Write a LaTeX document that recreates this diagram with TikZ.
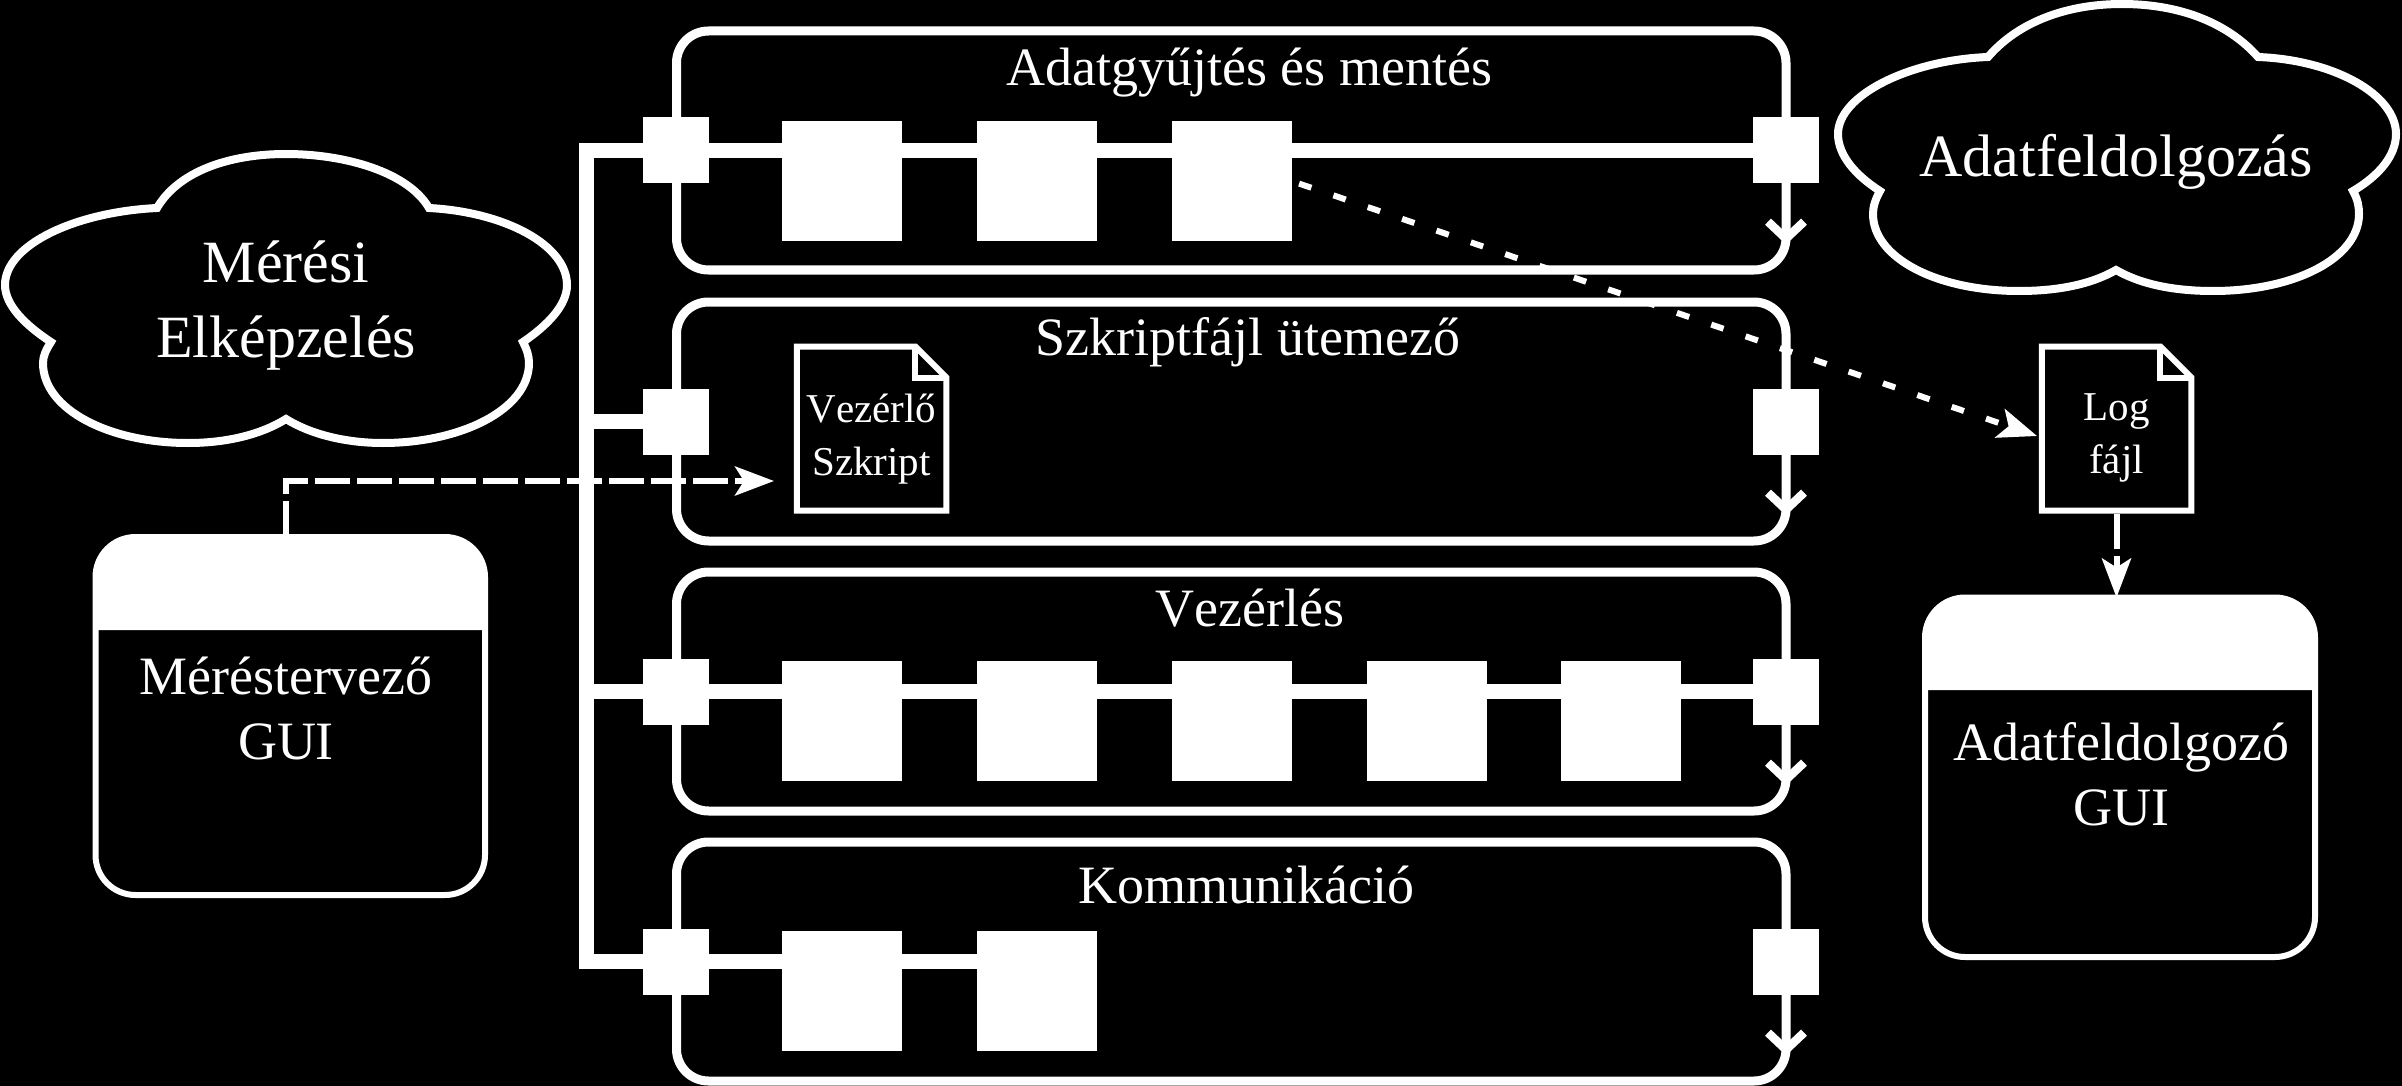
\documentclass[tikz,border=0pt]{standalone}
\usepackage{fontspec}
\setmainfont[Kerning=Off]{Liberation Serif}
\usetikzlibrary{arrows.meta,calc}
\tikzset{
  x=1pt,y=-1pt,
  every node/.style={text=white,inner sep=0pt,outer sep=0pt,align=center},
  lane/.style={draw=white,line width=9pt,rounded corners=32pt,minimum width=1109.5pt,minimum height=239pt},
  portbox/.style={fill=white,minimum width=66pt,minimum height=66pt},
  blockbox/.style={fill=white,minimum width=120pt,minimum height=120pt},
  guibox/.style={draw=white,line width=6pt,rounded corners=40pt},
  docbox/.style={minimum width=149.5pt,minimum height=164pt},
  doctext/.style={font=\fontsize{41}{53}\selectfont},
  bus/.style={draw=white,line width=15pt,line join=miter},
  lanetitle/.style={font=\fontsize{54}{60}\selectfont},
  guitext/.style={font=\fontsize{54}{65}\selectfont},
  cloudtext/.style={font=\fontsize{60}{75}\selectfont},
  cloudline/.style={draw=white,line width=8pt,line join=miter},
  docline/.style={draw=white,line width=6pt,line join=miter},
  rail/.style={draw=white,line width=7pt,-{Straight Barb[length=17pt,width=36pt,line width=8.5pt,line cap=butt,sharp]}},
  dashedflow/.style={draw=white,line width=6pt,dash pattern=on 35pt off 7pt,-{Stealth[length=39pt,width=29pt,inset=9pt]}},
  dottedflow/.style={draw=white,line width=6pt,dash pattern=on 13pt off 23.3pt,dash phase=28.3pt,-{Stealth[length=39pt,width=30pt,inset=9pt]}},
}
\begin{document}
\begin{tikzpicture}
\useasboundingbox[fill=black] (0,0) rectangle (2402,1086);

% lanes
\node[lane] (l1) at (1231.25,150.5) {};
\node[lane] (l2) at (1231.25,421.5) {};
\node[lane] (l3) at (1231.25,691.5) {};
\node[lane] (l4) at (1231.25,961.5) {};
\node[lanetitle] (t1) at (1249,73) {Adatgyűjtés és mentés};
\node[lanetitle] (t2) at (1248,342) {Szkriptfájl ütemező};
\node[lanetitle] (t3) at (1250,608) {Vezérlés};
\node[lanetitle] (t4) at (1246,885) {Kommunikáció};

% ports
\foreach \n/\y in {1/150.5,2/421.5,3/691.5,4/961.5}{
  \node[portbox] (pl\n) at (676,\y) {};
  \node[portbox] (pr\n) at (1786,\y) {};
  \coordinate (e\n) at (1786,{\y+94});
}
% blocks
\foreach \n/\x in {1/841.5,2/1036.5,3/1231.5}{\node[blockbox] (a\n) at (\x,181) {};}
\foreach \n/\x in {1/841.5,2/1036.5,3/1231.5,4/1426.5,5/1621}{\node[blockbox] (c\n) at (\x,721) {};}
\foreach \n/\x in {1/841.5,2/1036.5}{\node[blockbox] (d\n) at (\x,991) {};}

% bus and lines
\coordinate (b1) at (586,150.5);
\coordinate (b2) at (586,421.5);
\coordinate (b3) at (586,691.5);
\coordinate (b4) at (586,961.5);
\draw[bus] (pl1.center) -- (b1) -- (b4) -- (pl4.center);
\draw[bus] (b2) -- (pl2.center);
\draw[bus] (b3) -- (pl3.center);
\draw[bus] (pl1.center) -- (pr1.center);
\draw[bus] (pl3.center) -- (pr3.center);
\draw[bus] (pl4.center) -- (d2.west |- pl4.center);

% re-stack blocks above lines
\foreach \n in {1,2,3}{\fill[white] (a\n.north west) rectangle (a\n.south east);}
\foreach \n in {1,2,3,4,5}{\fill[white] (c\n.north west) rectangle (c\n.south east);}
\foreach \n in {1,2}{\fill[white] (d\n.north west) rectangle (d\n.south east);}

% rails
\foreach \n in {1,2,3,4}{\draw[rail] (pr\n.south) -- (e\n);}

% clouds
\draw[cloudline] (157,208) .. controls (178,172) and (228,154) .. (286,154)
  .. controls (345,154) and (408,172) .. (429,208)
  .. controls (505,212) and (567,245) .. (567,285)
  .. controls (567,305) and (548,325) .. (523,342)
  .. controls (527,350) and (529,356) .. (529,363)
  .. controls (529,410) and (460,443) .. (383,443)
  .. controls (345,443) and (310,434) .. (286,419)
  .. controls (262,434) and (228,443) .. (188,443)
  .. controls (110,443) and (43,410) .. (43,363)
  .. controls (43,356) and (46,350) .. (51,342)
  .. controls (25,325) and (5,305) .. (5,285)
  .. controls (5,245) and (75,212) .. (157,208) -- cycle;
\node[cloudtext] (c1t) at (286,306) {Mérési\\Elképzelés};

\draw[cloudline] (1988,57) .. controls (2020,20) and (2070,4) .. (2122,4)
  .. controls (2175,4) and (2225,20) .. (2258,57)
  .. controls (2335,60) and (2396,95) .. (2396,134)
  .. controls (2396,155) and (2380,175) .. (2353,191)
  .. controls (2358,200) and (2359,207) .. (2359,214)
  .. controls (2359,258) and (2295,291) .. (2213,291)
  .. controls (2176,291) and (2142,285) .. (2116,270)
  .. controls (2090,285) and (2056,291) .. (2019,291)
  .. controls (1937,291) and (1873,258) .. (1873,214)
  .. controls (1873,207) and (1875,200) .. (1880,191)
  .. controls (1855,175) and (1838,155) .. (1838,134)
  .. controls (1838,95) and (1910,60) .. (1988,57) -- cycle;
\node[cloudtext] (c2t) at (2116,162) {Adatfeldolgozás};

% GUI boxes
\node[guibox,minimum width=389.5pt,minimum height=358pt] (g1) at (290.25,716) {};
\fill[white,rounded corners=40pt] (95.5,630) -- (95.5,537) -- (485,537) -- (485,630);
\node[guitext] (g1t) at (286,708) {Méréstervező\\GUI};

\node[guibox,minimum width=390pt,minimum height=359.5pt] (g2) at (2120,777.25) {};
\fill[white,rounded corners=40pt] (1925,690) -- (1925,597.5) -- (2315,597.5) -- (2315,690);
\node[guitext] (g2t) at (2121,774) {Adatfeldolgozó\\GUI};

% documents
\node[docbox] (vez) at (871.5,428.5) {};
\node[doctext] (vezt) at (871.5,439) {Vezérlő\\Szkript};
\draw[docline] (vez.north west) -- ($(vez.north east)+(-31,0)$) -- ($(vez.north east)+(0,31)$) -- (vez.south east) -- (vez.south west) -- cycle;
\draw[docline] ($(vez.north east)+(-31,0)$) -- ($(vez.north east)+(-31,31)$) -- ($(vez.north east)+(0,31)$);

\node[docbox] (log) at (2116.5,428.5) {};
\node[doctext] (logt) at (2116.5,438) {Log\\fájl};
\draw[docline] (log.north west) -- ($(log.north east)+(-31,0)$) -- ($(log.north east)+(0,31)$) -- (log.south east) -- (log.south west) -- cycle;
\draw[docline] ($(log.north east)+(-31,0)$) -- ($(log.north east)+(-31,31)$) -- ($(log.north east)+(0,31)$);

% flows
\coordinate (g1top) at (286,536);
\coordinate (vezin) at (774,481);
\draw[dashedflow] (g1top) |- (vezin);
\coordinate (login) at (2037,436);
\draw[dottedflow] (a3.east) -- (login);
\draw[dashedflow] ($(log.south)+(0,3)$) -- (log.south |- g2.north);
\end{tikzpicture}
\end{document}
